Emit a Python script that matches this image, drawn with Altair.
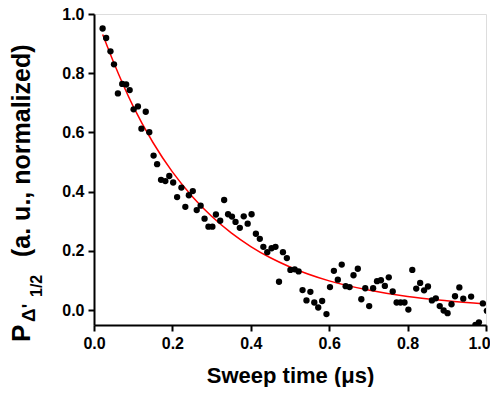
import altair as alt
import pandas as pd

# ---- data ----
time_us = [0.022, 0.031, 0.042, 0.051, 0.061, 0.072, 0.082, 0.091, 0.101, 0.112,
           0.121, 0.132, 0.141, 0.152, 0.161, 0.171, 0.182, 0.192, 0.202, 0.212,
           0.223, 0.233, 0.242, 0.252, 0.262, 0.272, 0.282, 0.292, 0.302, 0.311,
           0.322, 0.332, 0.342, 0.352, 0.361, 0.372, 0.382, 0.392, 0.402, 0.413,
           0.423, 0.432, 0.442, 0.453, 0.463, 0.472, 0.482, 0.492, 0.501, 0.512,
           0.522, 0.532, 0.542, 0.552, 0.562, 0.572, 0.582, 0.593, 0.602, 0.612,
           0.622, 0.632, 0.642, 0.652, 0.662, 0.673, 0.682, 0.692, 0.702, 0.712,
           0.722, 0.732, 0.742, 0.752, 0.762, 0.772, 0.782, 0.792, 0.802, 0.812,
           0.822, 0.832, 0.842, 0.852, 0.862, 0.872, 0.882, 0.892, 0.902, 0.912,
           0.921, 0.932, 0.942, 0.962, 0.973, 0.982, 0.992, 1.002]
signal = [0.951, 0.919, 0.874, 0.830, 0.732, 0.764, 0.762, 0.743, 0.678, 0.688,
          0.613, 0.670, 0.601, 0.522, 0.493, 0.440, 0.436, 0.453, 0.431, 0.382,
          0.414, 0.349, 0.388, 0.402, 0.338, 0.353, 0.309, 0.282, 0.282, 0.323,
          0.302, 0.372, 0.324, 0.316, 0.298, 0.278, 0.317, 0.292, 0.324, 0.258,
          0.241, 0.214, 0.196, 0.209, 0.214, 0.096, 0.196, 0.176, 0.136, 0.138,
          0.131, 0.068, 0.033, 0.062, 0.026, 0.009, 0.031, -0.013, 0.078, 0.133,
          0.103, 0.154, 0.081, 0.078, 0.118, 0.140, 0.037, 0.074, 0.014, 0.074,
          0.098, 0.101, 0.082, 0.111, 0.063, 0.026, 0.026, 0.026, 0.002, 0.136,
          0.073, 0.092, 0.067, 0.080, 0.033, 0.040, 0.014, -0.001, -0.010, 0.020,
          0.047, 0.077, 0.039, 0.046, -0.050, -0.041, 0.023, -0.002]

fit_time = [0.022, 0.05, 0.10, 0.15, 0.20, 0.25, 0.30, 0.35, 0.40, 0.45, 0.50,
            0.60, 0.70, 0.80, 0.90, 1.00]
fit_value = [0.931, 0.837, 0.688, 0.567, 0.467, 0.385, 0.317, 0.261, 0.215, 0.177,
             0.146, 0.099, 0.068, 0.046, 0.032, 0.021]

x_ticks = [0.0, 0.2, 0.4, 0.6, 0.8, 1.0]
y_ticks = [0.0, 0.2, 0.4, 0.6, 0.8, 1.0]
x_title = "Sweep time (μs)"
ylab_parts = ["P", "Δ'", "1/2", "(a. u., normalized)"]

pts = pd.DataFrame({"t": time_us, "p": signal})
fit = pd.DataFrame({"t": fit_time, "p": fit_value})

FONT = "Liberation Sans"
xs = alt.Scale(domain=[0, 1.0], nice=False, zero=False)
ys = alt.Scale(domain=[-0.05, 1.0], nice=False, zero=False)

x_axis = alt.Axis(values=x_ticks, format=".1f", title=x_title, grid=False,
                  labelFlush=False,
                  labelOffset={"condition": {"test": "datum.value >= 1", "value": -7},
                               "value": 0},
                  labelFontSize=16, labelFontWeight="bold", labelColor="black",
                  labelPadding=4, tickSize=6, tickWidth=2, tickColor="black",
                  domainColor="black", domainWidth=2,
                  titleFontSize=22, titleFontWeight="bold", titleColor="black",
                  titlePadding=14, titleFont=FONT, labelFont=FONT)
y_axis = alt.Axis(values=y_ticks, format=".1f", title=None, grid=False,
                  labelFlush=False,
                  labelFontSize=16, labelFontWeight="bold", labelColor="black",
                  labelPadding=4, tickSize=6, tickWidth=2, tickColor="black",
                  domainColor="black", domainWidth=2, labelFont=FONT)

points = alt.Chart(pts).mark_circle(size=40, color="black", opacity=1, clip=True).encode(
    x=alt.X("t:Q", scale=xs, axis=x_axis),
    y=alt.Y("p:Q", scale=ys, axis=y_axis),
)
line = alt.Chart(fit).mark_line(color="red", strokeWidth=1.5, interpolate="monotone",
                                clip=True).encode(
    x=alt.X("t:Q", scale=xs, axis=x_axis),
    y=alt.Y("p:Q", scale=ys, axis=y_axis),
)

def ylab(i, size, xpx, ypx):
    return alt.Chart(pd.DataFrame({"s": [ylab_parts[i]]})).mark_text(
        angle=270, align="left", baseline="alphabetic", fontSize=size,
        fontWeight="bold", font=FONT, color="black",
    ).encode(text="s:N", x=alt.value(xpx), y=alt.value(ypx))

labels = [
    ylab(0, 26, -64, 328),
    ylab(1, 19, -59, 308),
    ylab(2, 16, -52, 283),
    ylab(3, 25, -64, 243),
]

chart = alt.layer(line, points, *labels).properties(
    width=392, height=311,
    autosize=alt.AutoSizeParams(type="none"),
    padding={"left": 86, "top": 6, "right": 4, "bottom": 62},
).configure_view(stroke="black", strokeWidth=2).configure(font=FONT)

chart.save("out.html", embed_options={"renderer": "svg", "actions": False})
